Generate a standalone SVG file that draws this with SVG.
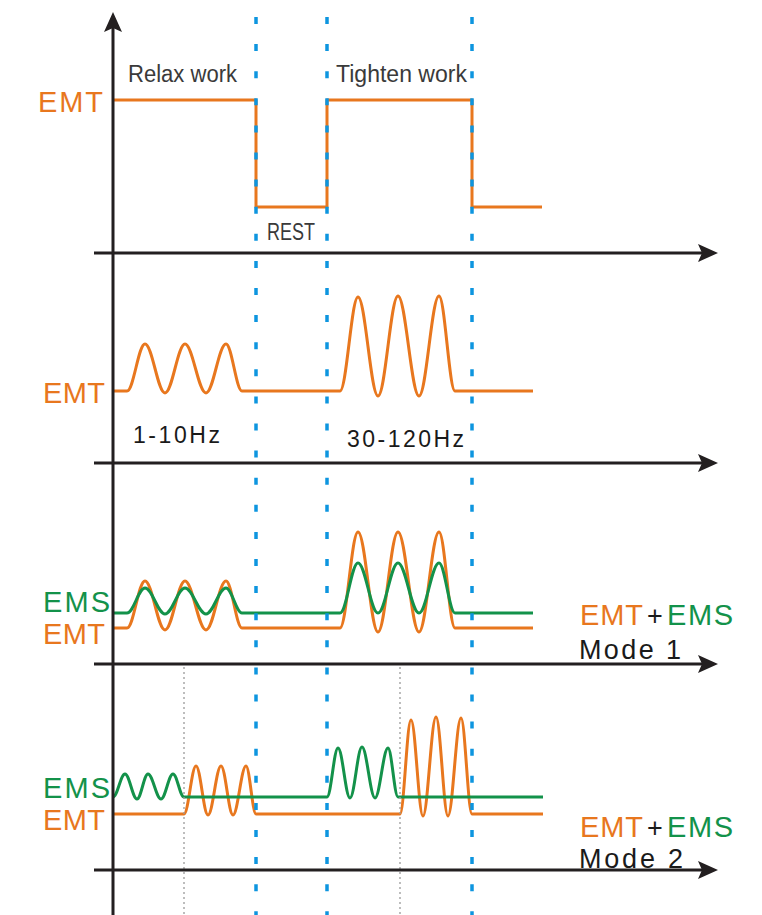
<svg xmlns="http://www.w3.org/2000/svg" width="762" height="915" viewBox="0 0 762 915">
<style>
.emt{fill:none;stroke:#E8771E;stroke-width:3;stroke-linejoin:round}
.ems{fill:none;stroke:#13924A;stroke-width:3;stroke-linejoin:round}
.axis{fill:none;stroke:#231F20;stroke-width:3;marker-end:url(#arr)}
.blue{fill:none;stroke:#0D95DF;stroke-width:3.5;stroke-dasharray:7 20.1}
.gray{fill:none;stroke:#9A9A9A;stroke-width:1.3;stroke-dasharray:2 3}
text{font-family:"Liberation Sans",Arial,sans-serif}
.lo{fill:#E8771E;font-size:29px}
.lg{fill:#13924A;font-size:29px}
.lk{fill:#1A1A1A;font-size:27px}
.lt{fill:#3A3A3A;font-size:23px}
.hz{fill:#1A1A1A;font-size:23px}
</style>
<defs>
<marker id="arr" viewBox="0 0 20 18" refX="7" refY="9" markerWidth="20" markerHeight="18" markerUnits="userSpaceOnUse" orient="auto">
<path d="M0,0 L20,9 L0,18 L4,9 Z" fill="#231F20"/>
</marker>
</defs>
<rect width="762" height="915" fill="#FFFFFF"/>

<g id="panel1">
<path class="emt" d="M113,100 H256 V207 H327 V100 H472 V207 H542"/>
<text class="lo" x="38" y="112" textLength="65">EMT</text>
<text class="lt" x="128" y="82" textLength="109" lengthAdjust="spacingAndGlyphs">Relax work</text>
<text class="lt" x="336" y="82" textLength="131" lengthAdjust="spacingAndGlyphs">Tighten work</text>
<text class="lt" x="267" y="240" textLength="48" lengthAdjust="spacingAndGlyphs">REST</text>
</g>

<g id="panel2">
<path class="emt" d="M113,391 H127 C133.6,391 138.4,344 145,344 C152.3,344 157.7,393 165,393 C172.3,393 177.7,344 185,344 C192.6,344 198.4,393 206,393 C213.3,393 218.7,344 226,344 C231.8,344 236.2,391 242,391 H340 C346.6,391 351.4,297 358,297 C365.3,297 370.7,396 378,396 C385.3,396 390.7,296 398,296 C405.6,296 411.4,396 419,396 C426.3,396 431.7,296 439,296 C444.8,296 449.2,391 455,391 H533"/>
<text class="lo" x="43" y="403" textLength="62">EMT</text>
<text class="hz" x="133" y="443" textLength="87">1-10Hz</text>
<text class="hz" x="347" y="447" textLength="117">30-120Hz</text>
</g>

<g id="panel3">
<path class="emt" d="M113,628 H127 C133.6,628 138.4,581 145,581 C152.3,581 157.7,630 165,630 C172.3,630 177.7,581 185,581 C192.6,581 198.4,630 206,630 C213.3,630 218.7,581 226,581 C231.8,581 236.2,628 242,628 H340 C346.6,628 351.4,532 358,532 C365.3,532 370.7,632 378,632 C385.3,632 390.7,532 398,532 C405.6,532 411.4,632 419,632 C426.3,632 431.7,532 439,532 C444.8,532 449.2,628 455,628 H533"/>
<path class="ems" d="M113,613 H127 C133.6,613 138.4,588 145,588 C152.3,588 157.7,614 165,614 C172.3,614 177.7,588 185,588 C192.6,588 198.4,614 206,614 C213.3,614 218.7,588 226,588 C231.8,588 236.2,613 242,613 H340 C346.6,613 351.4,563 358,563 C365.3,563 370.7,613 378,613 C385.3,613 390.7,563 398,563 C405.6,563 411.4,613 419,613 C426.3,613 431.7,563 439,563 C444.8,563 449.2,613 455,613 H533"/>
<text class="lg" x="43" y="612" textLength="67">EMS</text>
<text class="lo" x="43" y="644" textLength="62">EMT</text>
<text class="lo" x="580" y="625" font-size="28" textLength="63">EMT</text>
<text class="lk" x="647" y="625" font-size="28">+</text>
<text class="lg" x="667" y="625" font-size="28" textLength="66">EMS</text>
<text class="lk" x="579" y="659" textLength="102">Mode 1</text>
</g>

<g id="panel4">
<path class="emt" d="M113,814 H184 C188.4,814 191.6,766 196,766 C200.4,766 203.6,815 208,815 C212.7,815 216.3,766 221,766 C225.4,766 228.6,815 233,815 C237.7,815 241.3,766 246,766 C249.6,766 252.4,814 256,814 H400 C404,814 407,720 411,720 C415.4,720 418.6,816 423,816 C427.7,816 431.3,717 436,717 C440.4,717 443.6,816 448,816 C452.7,816 456.3,718 461,718 C465,718 468,814 472,814 H543"/>
<path class="ems" d="M113,797 C117.4,797 120.6,774 125,774 C129.4,774 132.6,799 137,799 C141,799 144,774 148,774 C152.7,774 156.3,799 161,799 C165.4,799 168.6,774 173,774 C177,774 180,797 184,797 H327 C331,797 334,748 338,748 C342.4,748 345.6,798 350,798 C354.4,798 357.6,747 362,747 C366.7,747 370.3,798 375,798 C379.7,798 383.3,748 388,748 C391.6,748 394.4,797 398,797 H543"/>
<text class="lg" x="43" y="798" textLength="67">EMS</text>
<text class="lo" x="43" y="830" textLength="62">EMT</text>
<text class="lo" x="580" y="837" font-size="28" textLength="63">EMT</text>
<text class="lk" x="647" y="837" font-size="28">+</text>
<text class="lg" x="667" y="837" font-size="28" textLength="66">EMS</text>
<text class="lk" x="579" y="868" textLength="104">Mode 2</text>
</g>

<g id="guides">
<line class="blue" x1="256" y1="17" x2="256" y2="915"/>
<line class="blue" x1="327" y1="17" x2="327" y2="915"/>
<line class="blue" x1="472" y1="17" x2="472" y2="915"/>
<line class="gray" x1="184" y1="667" x2="184" y2="915"/>
<line class="gray" x1="400" y1="667" x2="400" y2="915"/>
</g>

<g id="connectors">
<line class="axis" x1="113" y1="915" x2="113" y2="25"/>
<line class="axis" x1="94" y1="253" x2="705" y2="253"/>
<line class="axis" x1="94" y1="463" x2="705" y2="463"/>
<line class="axis" x1="94" y1="664" x2="705" y2="664"/>
<line class="axis" x1="94" y1="870" x2="705" y2="870"/>
</g>
</svg>
